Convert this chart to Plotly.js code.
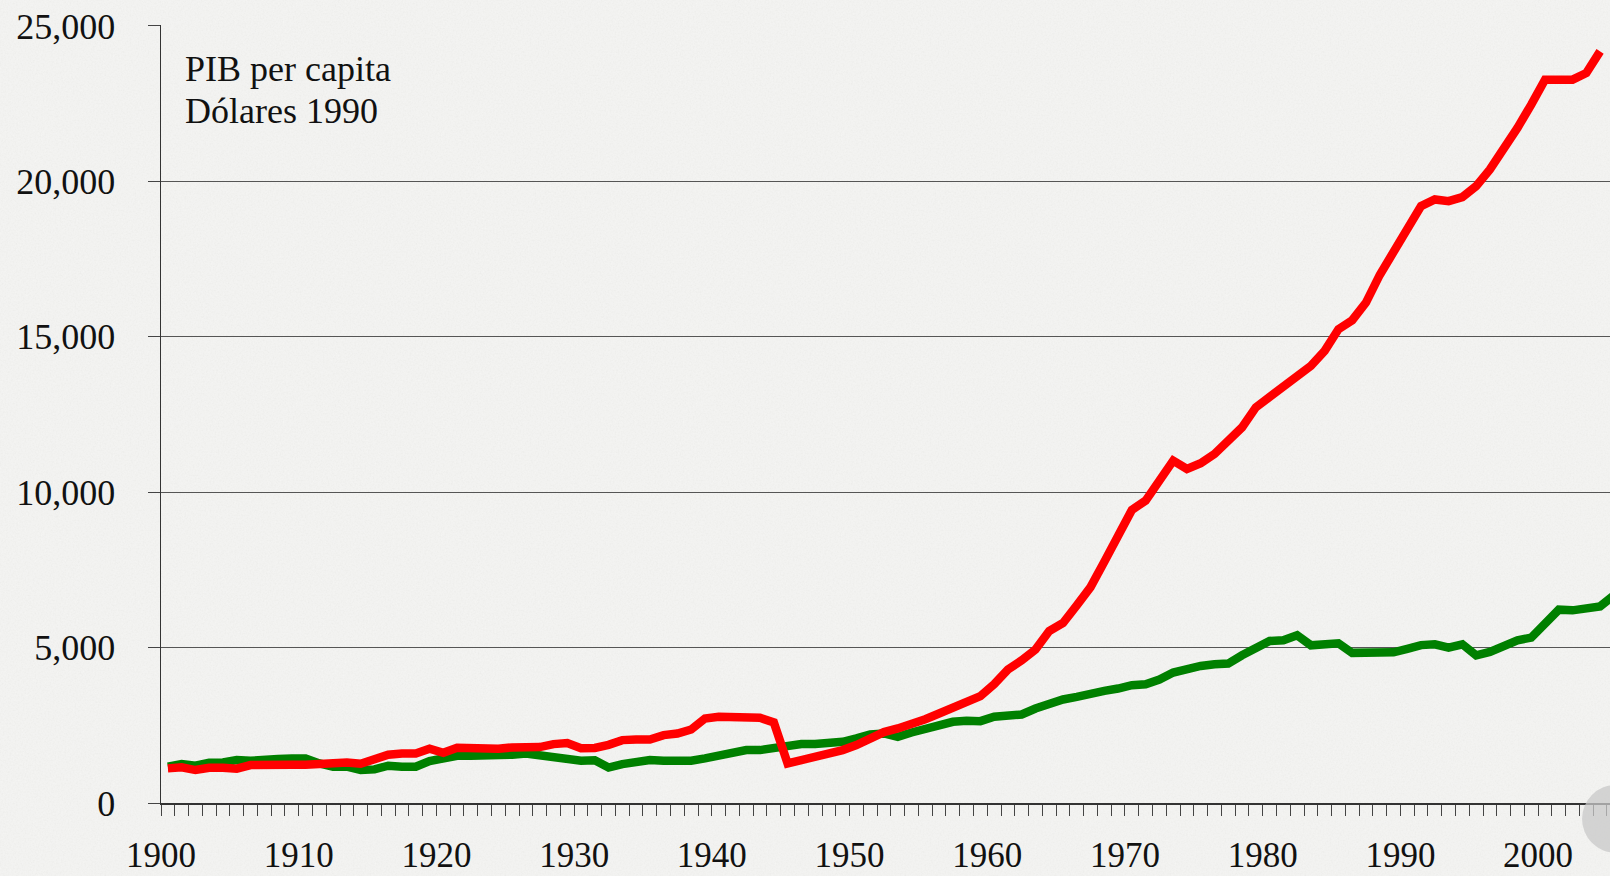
<!DOCTYPE html>
<html>
<head>
<meta charset="utf-8">
<script src="https://cdn.plot.ly/plotly-3.0.1.min.js"></script>
<style>
  html, body { margin: 0; padding: 0; }
  body {
    width: 1610px; height: 876px; overflow: hidden;
    background-color: #f6f6f4;
    background-image: url("data:image/svg+xml;utf8,<svg xmlns='http://www.w3.org/2000/svg' width='400' height='400'><filter id='n'><feTurbulence type='fractalNoise' baseFrequency='0.6' numOctaves='3' stitchTiles='stitch'/><feColorMatrix values='0 0 0 0 0.45  0 0 0 0 0.45  0 0 0 0 0.45  0 0 0 0.14 0'/></filter><rect width='100%' height='100%' filter='url(%23n)'/></svg>");
  }
  #chart { width: 1610px; height: 876px; }
</style>
</head>
<body>
<div id="chart"></div>
<script>
// ---- Data ----
const redYears = [];
for (let y = 1900; y <= 2004; y++) redYears.push(y);
const greenYears = [];
for (let y = 1900; y <= 2005; y++) greenYears.push(y);

const redValues = [
  1114, 1146, 1060, 1135, 1135, 1103, 1220, 1242, 1242, 1231,   // 1900-1909
  1231, 1274, 1306, 1306, 1263, 1381, 1552, 1595, 1595, 1745,   // 1910-1919
  1616, 1777, 1756, 1734, 1745, 1788, 1799, 1799, 1895, 1927,   // 1920-1929
  1760, 1770, 1870, 2023, 2045, 2045, 2184, 2237, 2366, 2719,   // 1930-1939
  2773, 2773, 2741, 2741, 2591, 1274, 1381, 1467, 1616, 1702,   // 1940-1949
  1862, 2098, 2280, 2398, 2527, 2697, 2880, 3061, 3201, 3436,   // 1950-1959
  3822, 4293, 4592, 4935, 5534, 5791, 6358, 6947, 7760, 8596,   // 1960-1969
  9430, 9730, 10373, 11015, 10747, 10929, 11229, 11635, 12085, 12727, // 1970-1979
  13048, 13391, 13744, 14066, 14547, 15240, 15532, 16100, 16988, 17759, // 1980-1989
  18508, 19204, 19418, 19364, 19493, 19846, 20382, 21024, 21719, 22469, // 1990-1999
  23271, 23271, 23271, 23485, 24181                              // 2000-2004
];

const greenValues = [
  1170, 1252, 1199, 1295, 1306, 1381, 1359, 1413, 1413, 1434,   // 1900-1909
  1434, 1274, 1167, 1167, 1060, 1081, 1199, 1167, 1167, 1349,   // 1910-1919
  1456, 1520, 1520, 1530, 1498, 1552, 1595, 1530, 1520, 1445,   // 1920-1929
  1360, 1375, 1140, 1252, 1306, 1381, 1359, 1359, 1359, 1434,   // 1930-1939
  1541, 1627, 1702, 1702, 1788, 1830, 1895, 1895, 1916, 1970,   // 1940-1949
  2077, 2205, 2237, 2130, 2269, 2398, 2505, 2612, 2644, 2633,   // 1950-1959
  2773, 2794, 2848, 3040, 3200, 3330, 3414, 3479, 3607, 3683,   // 1960-1969
  3789, 3821, 3972, 4197, 4325, 4410, 4464, 4485, 4753, 5000,   // 1970-1979
  5212, 5234, 5395, 5074, 5128, 5140, 4830, 4820, 4800, 4849,   // 1980-1989
  4960, 5080, 5106, 5000, 5106, 4753, 4860, 5074, 5234, 5321,   // 1990-1999
  5770, 6220, 6198, 6252, 6326, 6680                            // 2000-2005
];

const decadeLabels = ["1900","1910","1920","1930","1940","1950","1960","1970","1980","1990","2000"];
const yTickValues = [0, 5000, 10000, 15000, 20000, 25000];
const noteLines = ["PIB per capita", "Dólares 1990"];

// ---- Layout helpers ----
const decadeTickPos = decadeLabels.map(s => Number(s) - 0.5);
const FONT = "Liberation Serif, Times New Roman, serif";
const noteY = [0.9434, 0.8895];

const traces = [
  {
    x: greenYears, y: greenValues, type: "scatter", mode: "lines",
    line: { color: "#008000", width: 8.5, shape: "linear" },
    hoverinfo: "skip", showlegend: false
  },
  {
    x: redYears, y: redValues, type: "scatter", mode: "lines",
    line: { color: "#ff0000", width: 8.5, shape: "linear" },
    hoverinfo: "skip", showlegend: false
  }
];

const layout = {
  width: 1610, height: 876,
  margin: { l: 161, r: 0, t: 25, b: 73, pad: 0 },
  paper_bgcolor: "rgba(0,0,0,0)",
  plot_bgcolor: "rgba(0,0,0,0)",
  font: { family: FONT, size: 36, color: "#111" },
  showlegend: false,
  xaxis: {
    range: [1899.5, 2004.72],
    tickmode: "array",
    tickvals: decadeTickPos,
    ticktext: decadeLabels,
    ticks: "outside", ticklen: 11, tickwidth: 1, tickcolor: "#444",
    minor: { tick0: 1899.5, dtick: 1, ticks: "outside", ticklen: 11, tickwidth: 1, tickcolor: "#444", showgrid: false },
    showline: true, linecolor: "#333", linewidth: 1.5,
    showgrid: false, zeroline: false,
    ticklabelstandoff: 9,
    tickfont: { family: FONT, size: 35, color: "#111" },
    fixedrange: true
  },
  yaxis: {
    range: [0, 25030],
    tickmode: "array",
    tickvals: yTickValues,
    tickformat: ",d",
    ticks: "outside", ticklen: 12, tickwidth: 1, tickcolor: "#444",
    showline: true, linecolor: "#333", linewidth: 1.5,
    showgrid: true, gridcolor: "#555", gridwidth: 1,
    zeroline: false,
    ticklabelstandoff: 25,
    tickfont: { family: FONT, size: 36, color: "#111" },
    fixedrange: true
  },
  annotations: noteLines.map((t, i) => ({
    xref: "paper", yref: "paper",
    x: 0.0155, y: noteY[i], xanchor: "left", yanchor: "middle",
    align: "left", showarrow: false,
    text: t,
    font: { family: FONT, size: 36, color: "#111" }
  })),
  shapes: [
    {
      type: "circle", xref: "paper", yref: "paper",
      x0: 0.9807, x1: 1.027, y0: 0.0232, y1: -0.064,
      fillcolor: "rgba(200,200,200,0.75)", line: { width: 0 }, layer: "above"
    }
  ]
};

Plotly.newPlot("chart", traces, layout, { staticPlot: true, displayModeBar: false });
</script>
</body>
</html>
